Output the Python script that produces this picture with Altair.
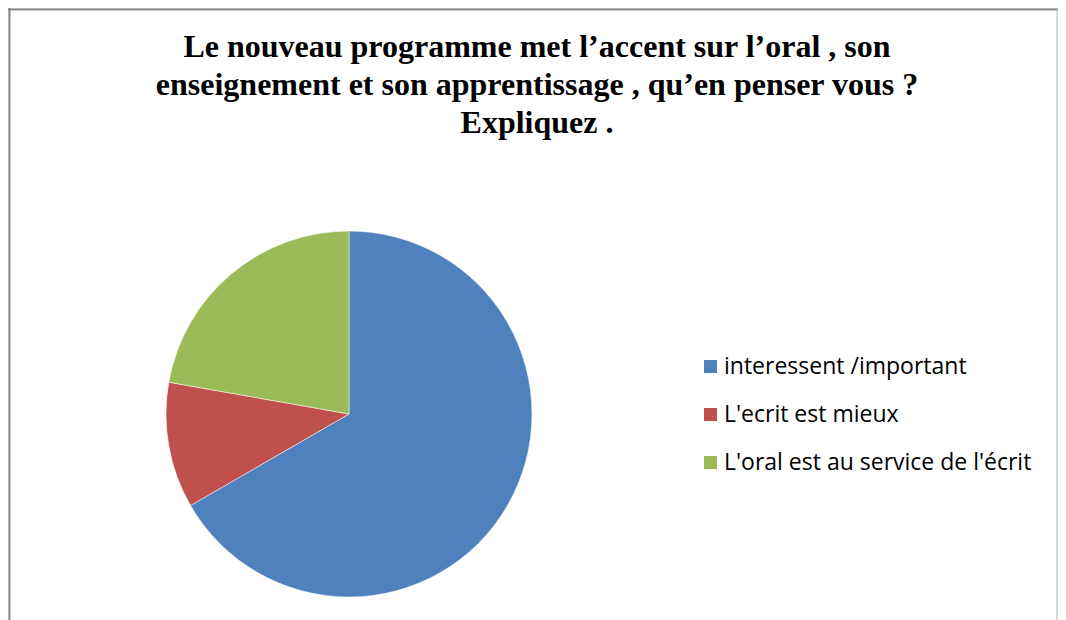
import altair as alt
import pandas as pd

categories = [" interessent /important", "L'ecrit est mieux", "L'oral est au service de l'écrit"]
values = [6, 1, 2]
colors = ["#4F81BD", "#C0504D", "#9BBB59"]
title_lines = [
    "Le nouveau programme met l\u2019accent sur l\u2019oral , son",
    "enseignement et son apprentissage , qu\u2019en penser vous ?",
    "Expliquez .",
]

W, H = 1050, 620

df = pd.DataFrame({"cat": categories, "val": values, "ord": list(range(len(categories)))})

pie = alt.Chart(df).mark_arc(radius=183, stroke="white", strokeWidth=0.5).encode(
    theta=alt.Theta("val:Q", stack=True),
    order=alt.Order("ord:Q"),
    color=alt.Color(
        "cat:N",
        scale=alt.Scale(domain=categories, range=colors),
        sort=categories,
        legend=alt.Legend(
            title=None,
            orient="none",
            legendX=691,
            legendY=347,
            symbolType="square",
            symbolSize=169,
            symbolStrokeWidth=0,
            labelFont="Open Sans",
            labelFontSize=23,
            labelColor="#000000",
            labelOffset=2,
            rowPadding=24,
            labelLimit=400,
        ),
    ),
    x=alt.value(341),
    y=alt.value(406),
)

title = alt.Chart(pd.DataFrame({"t": ["\n".join(title_lines)]})).mark_text(
    font="Liberation Serif",
    fontSize=32,
    fontWeight="bold",
    align="center",
    baseline="alphabetic",
    lineBreak="\n",
    lineHeight=38,
    color="#000000",
).encode(text="t:N", x=alt.value(529), y=alt.value(49))

border_df = pd.DataFrame({"k": [0]})
top_border = alt.Chart(border_df).mark_rule(color="#898989", strokeWidth=2).encode(
    x=alt.value(0), x2=alt.value(W), y=alt.value(1.5)
)
left_border = alt.Chart(border_df).mark_rule(color="#898989", strokeWidth=2).encode(
    x=alt.value(1.5), y=alt.value(0), y2=alt.value(H)
)
right_border = alt.Chart(border_df).mark_rule(color="#b5b5b5", strokeWidth=1).encode(
    x=alt.value(W - 1), y=alt.value(1), y2=alt.value(H)
)

chart = alt.layer(pie, title, top_border, left_border, right_border).properties(
    width=W, height=H, padding=0, autosize=alt.AutoSizeParams(type="none")
).configure_view(stroke=None).configure(background="white")

chart.save("out.html", embed_options={"renderer": "svg", "actions": False})
